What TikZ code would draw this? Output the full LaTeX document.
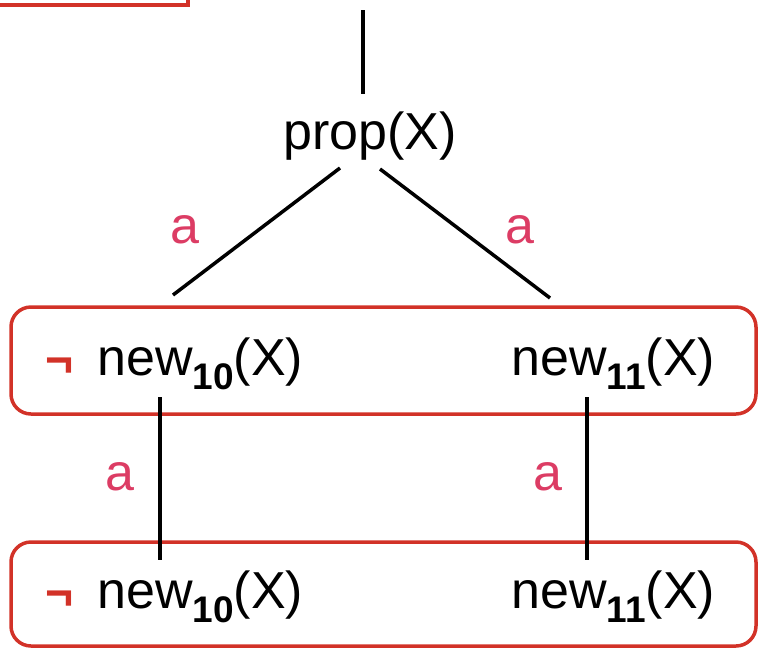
\documentclass[tikz,border=0pt]{standalone}
\usepackage{fontspec}
\setmainfont{Liberation Sans}
\definecolor{boxred}{RGB}{210,50,40}
\definecolor{lblred}{RGB}{220,60,100}
\newcommand{\subn}[1]{\raisebox{-14pt}{\fontsize{37}{40}\selectfont\bfseries #1}}
\begin{document}
\begin{tikzpicture}[x=1pt,y=-1pt,
  txt/.style={inner sep=0pt,anchor=base west,font=\fontsize{52}{60}\selectfont},
  lbl/.style={inner sep=0pt,anchor=base,text=lblred,font=\fontsize{52}{60}\selectfont},
  neg/.style={inner sep=0pt,anchor=base west,text=boxred,font=\fontsize{48}{50}\selectfont\bfseries},
  rbox/.style={draw=boxred,line width=3.5pt,rounded corners=20pt},
  edge/.style={draw=black,line width=3.5pt}]
\useasboundingbox (0,0) rectangle (758,649);
% partial box at top left
\draw[draw=boxred,line width=3.5pt] (-10,-10) rectangle (188,5);
% boxes
\draw[rbox] (11,307) rectangle (756,414);
\draw[rbox] (11,542) rectangle (756,646);
% texts
\node[inner sep=0pt,anchor=base,font=\fontsize{52}{60}\selectfont] (prop) at (370,149) {prop(X)};
\node[neg] (nega) at (45,376) {¬};
\node[txt] (n10a) at (97,375) {new\subn{10}(X)};
\node[txt] (n11a) at (511,375) {new\subn{11}(X)};
\node[neg] (negb) at (45,609) {¬};
\node[txt] (n10b) at (97,608) {new\subn{10}(X)};
\node[txt] (n11b) at (511,608) {new\subn{11}(X)};
% labels
\node[lbl] (la1) at (185,243) {a};
\node[lbl] (la2) at (520,243) {a};
\node[lbl] (la3) at (120,490) {a};
\node[lbl] (la4) at (548,490) {a};
% connector endpoints
\coordinate (top) at (363,10);
\coordinate (ptop) at (363,94);
\coordinate (pl) at (340,168);
\coordinate (pr) at (380,169);
\coordinate (cl) at (173,295);
\coordinate (cr) at (550,298);
\coordinate (d10a) at (160,397);
\coordinate (d10b) at (160,560);
\coordinate (d11a) at (587,397);
\coordinate (d11b) at (587,560);
\draw[edge] (top) -- (ptop);
\draw[edge] (pl) -- (cl);
\draw[edge] (pr) -- (cr);
\draw[edge] (d10a) -- (d10b);
\draw[edge] (d11a) -- (d11b);
\end{tikzpicture}
\end{document}
